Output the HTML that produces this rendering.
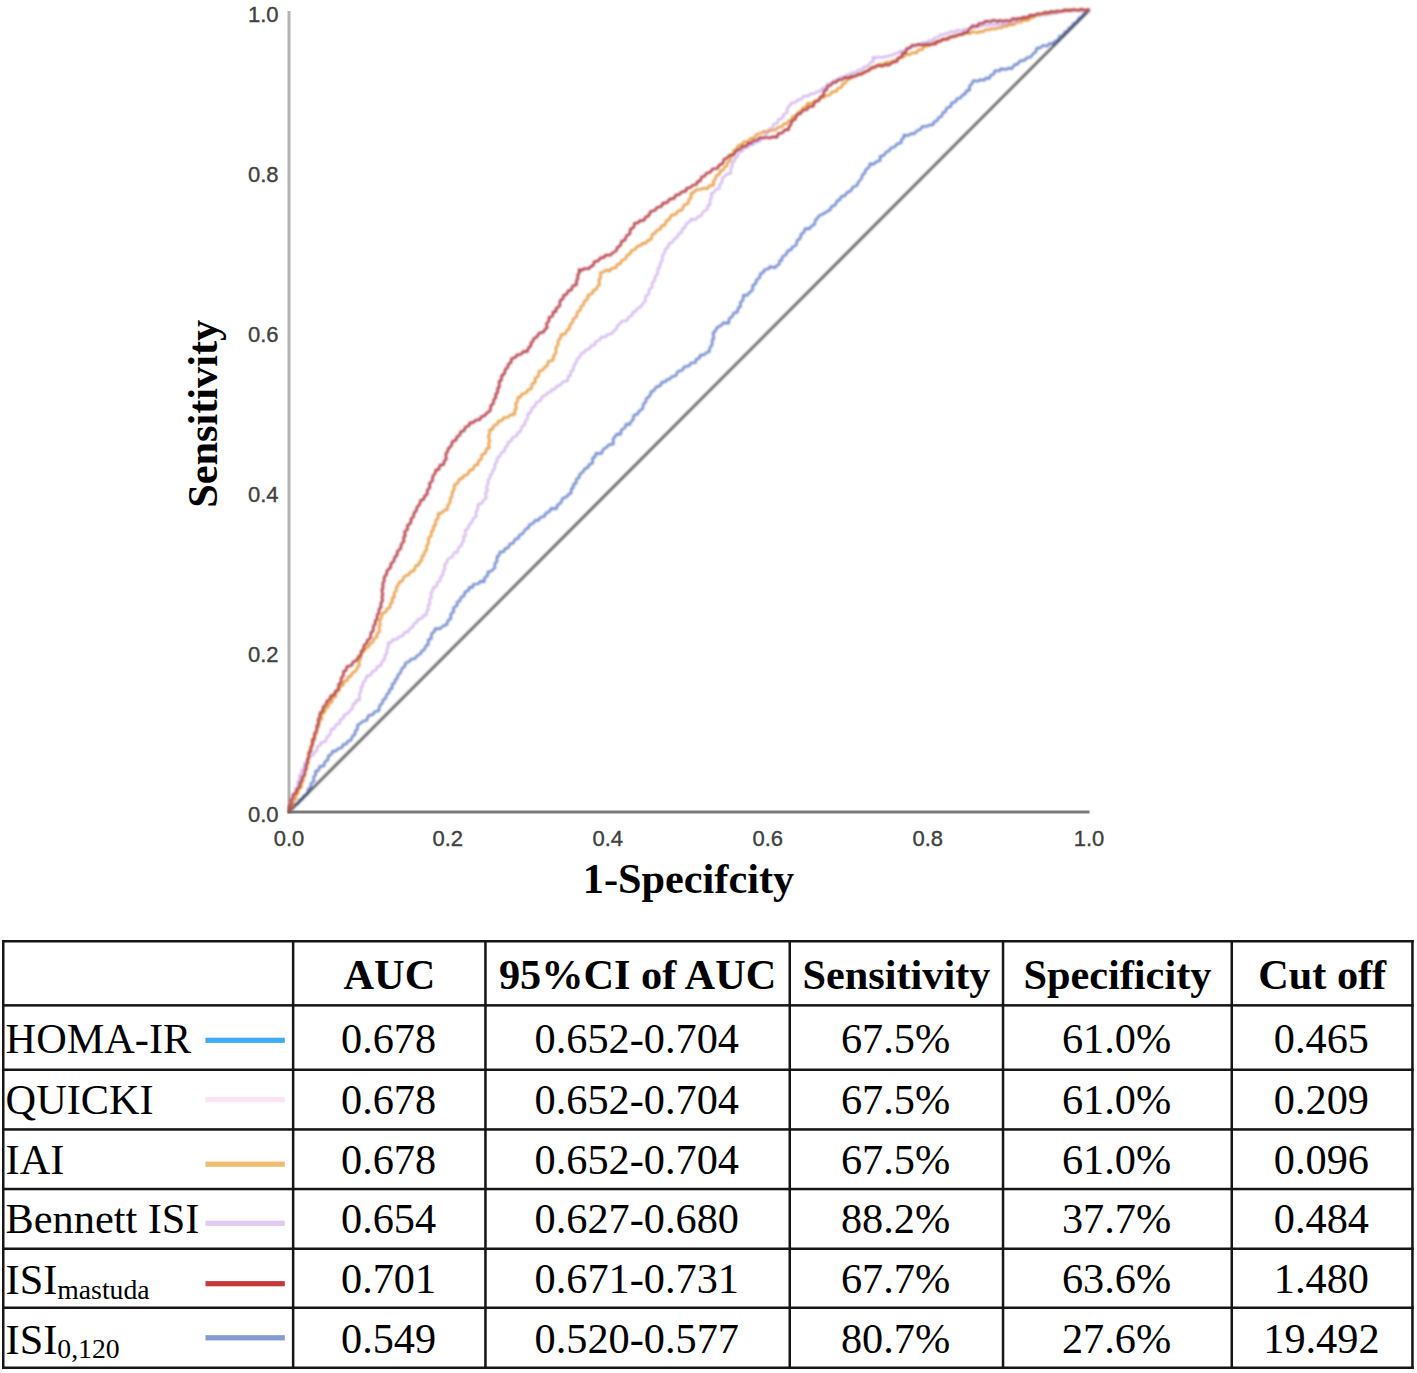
<!DOCTYPE html>
<html><head><meta charset="utf-8"><style>
html,body{margin:0;padding:0;background:#fff;}
body{width:1417px;height:1373px;overflow:hidden;position:relative;}
svg{position:absolute;left:0;top:0;}
.tk{font-family:"Liberation Sans",sans-serif;font-size:22px;fill:#404040;stroke:#404040;stroke-width:0.35px;}
.ttl{font-family:"Liberation Serif",serif;font-weight:bold;font-size:42.3px;fill:#000;}
.hb{font-family:"Liberation Serif",serif;font-weight:bold;font-size:42.3px;fill:#000;}
.td{font-family:"Liberation Serif",serif;font-size:42.3px;fill:#000;}
</style></head><body>
<svg width="1417" height="1373" viewBox="0 0 1417 1373">
<defs><filter id="bl" x="-5%" y="-5%" width="110%" height="110%"><feGaussianBlur stdDeviation="0.8"/></filter><filter id="bl2" x="-1%" y="-1%" width="102%" height="102%"><feGaussianBlur stdDeviation="0.45"/></filter></defs>
<rect x="287.5" y="11" width="3" height="801.5" fill="#b3b3b3"/>
<rect x="287.5" y="810.5" width="802" height="3" fill="#7a7a7a"/>
<g class="tk"><text x="278.6" y="822.0" text-anchor="end">0.0</text><text x="289.0" y="845.5" text-anchor="middle">0.0</text><text x="278.6" y="662.0" text-anchor="end">0.2</text><text x="447.8" y="845.5" text-anchor="middle">0.2</text><text x="278.6" y="502.0" text-anchor="end">0.4</text><text x="607.8" y="845.5" text-anchor="middle">0.4</text><text x="278.6" y="342.0" text-anchor="end">0.6</text><text x="767.8" y="845.5" text-anchor="middle">0.6</text><text x="278.6" y="182.0" text-anchor="end">0.8</text><text x="927.8" y="845.5" text-anchor="middle">0.8</text><text x="278.6" y="22.0" text-anchor="end">1.0</text><text x="1089.0" y="845.5" text-anchor="middle">1.0</text></g>
<text class="ttl" x="688.5" y="893.2" text-anchor="middle">1-Specifcity</text>
<text class="ttl" transform="translate(216.6,413.8) rotate(-90)" text-anchor="middle">Sensitivity</text>
<g fill="none" stroke-linejoin="round" stroke-linecap="round" filter="url(#bl)">
<path d="M289,812 L1089,10.5" stroke="#505050" stroke-width="2.4" style="mix-blend-mode:multiply"/>
<path d="M289.0,811.1 L290.3,808.7 L293.1,807.7 L294.3,804.3 L298.7,803.1 L299.4,799.8 L302.6,798.8 L303.5,796.1 L307.3,793.8 L308.2,789.1 L310.7,787.9 L311.0,783.4 L314.1,781.1 L313.4,777.2 L315.8,774.9 L315.4,771.1 L318.5,770.5 L319.9,766.2 L323.9,766.1 L324.7,762.1 L328.0,759.8 L328.3,755.8 L331.4,754.4 L332.6,751.3 L335.8,751.1 L338.2,748.6 L342.1,747.7 L343.1,744.4 L346.7,744.0 L347.6,741.1 L351.1,740.4 L352.3,736.2 L355.1,734.4 L355.1,730.9 L357.3,729.4 L357.7,724.9 L360.4,723.5 L362.6,721.3 L366.8,720.3 L368.4,715.7 L373.1,714.5 L374.5,711.8 L378.8,710.7 L379.6,705.7 L382.5,703.2 L383.0,699.8 L385.5,698.7 L386.9,694.0 L389.1,692.9 L389.5,689.6 L392.3,688.1 L392.1,684.4 L394.8,682.8 L395.1,679.8 L397.4,678.4 L397.8,675.1 L400.4,673.0 L401.9,668.4 L404.8,666.6 L405.5,662.8 L409.2,661.7 L411.0,659.1 L414.8,658.7 L417.2,655.5 L420.5,654.0 L421.6,651.0 L424.3,649.8 L426.0,645.7 L428.3,644.6 L428.2,639.8 L431.3,638.6 L431.4,633.8 L434.5,631.6 L435.0,628.8 L440.2,628.7 L443.0,626.0 L446.8,624.6 L448.0,620.5 L450.8,618.8 L450.8,614.1 L453.8,611.5 L453.4,607.7 L457.2,605.5 L457.0,601.9 L459.9,601.2 L461.1,597.2 L463.9,596.2 L464.9,592.1 L468.9,590.1 L469.3,587.1 L472.8,587.2 L473.4,584.1 L478.4,583.9 L480.2,581.3 L484.3,581.8 L484.4,578.0 L487.5,575.8 L488.0,571.7 L490.7,571.4 L492.6,570.0 L494.9,567.7 L494.8,563.6 L496.9,561.4 L497.1,556.4 L499.3,555.4 L499.9,551.9 L503.8,551.7 L505.2,548.5 L508.3,547.9 L509.7,544.2 L513.4,543.1 L515.1,538.9 L518.4,538.6 L519.1,535.4 L523.0,533.5 L524.9,529.7 L528.6,527.6 L529.5,524.7 L532.9,523.7 L535.2,520.2 L538.4,520.2 L540.4,517.4 L544.6,516.3 L545.4,513.5 L549.3,511.6 L551.2,508.3 L556.3,508.9 L557.4,505.1 L561.0,502.8 L562.5,498.3 L566.7,496.8 L568.7,494.2 L571.2,493.1 L571.2,488.9 L573.4,487.6 L573.5,484.1 L576.2,483.2 L576.3,479.0 L579.3,477.7 L579.5,474.4 L583.0,471.9 L584.9,468.6 L588.1,467.5 L588.8,464.8 L592.6,463.1 L592.6,457.9 L595.1,456.8 L595.9,453.3 L601.5,453.6 L603.1,449.3 L606.5,447.5 L608.8,444.7 L613.4,444.1 L613.1,438.8 L615.0,436.6 L617.0,434.0 L620.7,434.2 L621.4,429.8 L625.1,427.7 L625.9,424.1 L630.0,424.5 L630.5,421.9 L633.2,419.9 L633.6,415.4 L637.9,413.8 L639.0,411.1 L642.7,408.8 L643.5,403.7 L645.8,402.0 L646.3,398.6 L649.8,396.2 L651.1,391.9 L653.8,390.6 L656.2,387.0 L660.5,385.7 L661.8,382.1 L665.6,381.8 L666.9,379.4 L669.9,379.1 L671.3,376.9 L676.0,375.6 L677.8,371.4 L682.2,370.4 L684.4,366.6 L689.0,366.0 L691.0,362.9 L695.5,362.6 L696.0,359.3 L699.5,358.1 L700.3,355.0 L704.1,354.9 L706.4,352.7 L709.4,351.7 L709.8,347.9 L712.1,344.7 L712.3,339.8 L713.8,338.3 L713.1,333.0 L715.4,331.0 L717.1,327.3 L721.2,325.7 L723.1,322.8 L728.6,323.3 L729.3,318.5 L732.3,316.6 L733.7,312.9 L737.3,312.2 L738.4,307.6 L740.6,306.6 L740.3,302.5 L742.9,300.3 L743.4,295.2 L747.2,295.3 L749.5,292.5 L752.6,290.1 L752.8,285.3 L755.8,283.6 L756.4,279.9 L759.6,277.8 L760.4,273.7 L763.4,272.7 L764.2,269.9 L769.0,268.7 L769.8,266.5 L775.3,267.9 L776.0,266.0 L779.4,264.3 L779.3,260.9 L781.9,260.1 L782.2,256.8 L786.1,254.8 L787.7,250.7 L791.2,249.8 L792.1,247.2 L796.1,245.2 L797.1,240.5 L800.3,238.5 L801.1,234.0 L803.7,232.7 L805.2,228.5 L809.5,228.9 L811.1,226.3 L814.6,224.4 L815.3,220.2 L817.7,218.0 L819.2,215.5 L823.5,213.8 L826.5,211.8 L830.4,209.6 L831.2,206.8 L835.4,204.9 L837.1,200.7 L840.0,199.9 L841.2,196.4 L844.6,196.0 L846.9,192.6 L851.1,190.6 L852.7,187.2 L856.9,185.5 L858.7,181.5 L861.3,179.0 L862.5,174.7 L864.8,173.1 L865.6,169.8 L869.2,167.2 L869.9,163.8 L873.7,164.2 L876.6,161.5 L880.4,160.4 L879.9,156.5 L884.0,155.3 L886.2,151.8 L889.2,150.9 L890.9,147.9 L894.8,146.9 L897.0,143.8 L901.2,142.9 L901.4,139.6 L903.6,138.0 L904.0,135.0 L908.2,135.6 L910.7,133.7 L914.4,133.8 L917.1,130.4 L920.0,129.9 L922.3,126.5 L927.4,126.2 L928.8,125.1 L933.1,124.8 L933.9,121.9 L937.3,120.6 L938.7,117.3 L941.5,116.7 L942.8,112.6 L945.6,111.6 L946.7,107.8 L950.6,106.9 L951.6,103.0 L955.5,101.8 L957.1,98.4 L960.3,98.2 L962.5,94.9 L965.2,94.0 L966.3,91.0 L969.7,90.0 L969.4,86.3 L971.8,83.9 L973.4,80.4 L977.6,81.4 L979.9,79.8 L984.3,80.2 L985.6,78.0 L989.4,78.5 L990.7,75.1 L993.6,74.4 L994.8,70.7 L999.9,70.9 L1000.7,68.8 L1006.1,69.5 L1008.5,68.0 L1012.0,68.7 L1014.1,65.0 L1017.7,64.0 L1019.8,61.0 L1024.8,60.3 L1026.7,57.8 L1030.8,57.1 L1033.0,53.7 L1035.8,51.9 L1036.7,48.2 L1040.3,47.8 L1043.0,45.3 L1047.2,46.2 L1049.7,43.4 L1053.1,44.0 L1054.5,41.3 L1058.0,40.2 L1059.4,36.4 L1063.4,35.2 L1064.8,31.8 L1067.8,31.2 L1068.6,28.2 L1072.1,26.2 L1073.5,23.3 L1077.0,21.8 L1078.7,18.3 L1082.5,16.0 L1084.4,12.3 L1088.3,11.7 L1089.0,10.5" stroke="#6a84cc" stroke-width="2.4" style="mix-blend-mode:multiply"/>
<path d="M289.0,811.0 L290.0,807.3 L292.6,805.2 L292.3,801.7 L294.2,798.6 L293.7,794.6 L296.2,793.0 L295.7,788.3 L297.8,787.1 L297.7,781.8 L300.0,779.3 L299.3,775.5 L301.8,773.4 L301.5,769.9 L304.3,768.3 L304.5,763.0 L307.4,760.4 L309.2,756.5 L313.7,755.0 L314.3,752.0 L317.0,750.8 L317.3,746.5 L320.1,745.2 L321.5,742.3 L325.6,741.5 L326.9,737.1 L330.3,734.7 L330.8,729.3 L334.2,728.9 L335.9,724.5 L339.8,723.5 L340.1,719.8 L343.4,718.2 L343.9,715.1 L348.2,713.2 L350.2,710.2 L352.4,708.8 L352.9,704.0 L355.6,703.4 L356.1,700.4 L359.8,699.8 L359.3,694.2 L361.2,690.9 L360.7,687.3 L362.8,686.2 L363.1,682.2 L365.2,680.8 L366.5,676.4 L371.0,674.9 L372.1,671.5 L375.9,670.5 L377.2,666.6 L381.0,665.4 L382.0,661.5 L384.8,659.1 L384.9,655.2 L387.2,653.3 L386.6,649.8 L388.3,647.2 L388.2,642.7 L391.2,642.6 L392.8,639.6 L396.9,639.5 L399.2,636.5 L402.3,636.1 L404.7,632.4 L408.4,631.6 L409.7,628.6 L412.7,627.3 L413.9,623.6 L417.2,622.3 L417.6,619.4 L422.0,618.4 L423.1,615.6 L426.5,615.0 L426.8,610.9 L428.5,609.6 L427.9,605.4 L430.1,603.7 L429.3,599.7 L431.4,597.4 L430.8,592.9 L432.6,591.5 L433.0,588.0 L436.7,586.0 L437.2,582.4 L440.4,580.6 L440.6,576.7 L443.1,575.1 L443.0,571.2 L445.0,569.2 L444.5,564.7 L446.4,563.3 L447.9,558.9 L452.3,557.1 L454.0,552.7 L457.5,552.2 L458.4,547.4 L461.4,545.7 L462.1,542.1 L463.9,540.8 L463.3,536.6 L465.6,535.7 L465.1,530.5 L468.3,528.3 L469.3,524.3 L472.4,521.9 L473.1,518.4 L476.2,516.8 L476.0,511.4 L477.9,509.6 L477.9,504.6 L482.1,503.2 L483.2,500.3 L486.3,498.2 L485.5,493.0 L487.6,490.6 L486.5,486.8 L488.3,483.7 L488.0,480.0 L490.0,478.1 L490.5,474.6 L492.4,473.5 L492.6,470.2 L494.7,469.1 L494.9,464.0 L496.9,461.7 L497.3,458.0 L500.2,455.9 L501.4,452.7 L504.4,451.3 L505.2,447.4 L507.7,445.6 L508.0,442.3 L511.5,440.7 L512.4,437.2 L516.5,436.2 L517.7,433.0 L520.9,430.9 L521.8,426.6 L524.5,425.3 L525.4,421.0 L527.6,419.0 L527.9,413.8 L530.8,412.5 L531.9,408.1 L534.8,406.3 L536.4,402.2 L540.7,400.6 L542.0,396.5 L545.7,395.3 L547.8,392.5 L551.1,392.0 L552.0,389.4 L555.3,389.1 L556.4,386.4 L560.6,384.9 L562.9,381.6 L567.8,380.8 L568.1,376.3 L570.7,375.6 L570.8,371.1 L573.3,370.2 L573.9,365.1 L576.1,363.3 L577.1,358.8 L579.7,357.6 L580.9,353.6 L584.2,352.4 L585.9,349.7 L589.5,348.9 L591.0,345.7 L594.9,345.0 L595.4,341.7 L599.5,340.3 L601.1,337.2 L605.8,336.9 L607.0,334.5 L611.7,333.9 L613.4,331.1 L616.6,329.0 L617.4,325.7 L620.3,323.6 L621.6,321.2 L626.8,320.7 L628.5,317.2 L632.2,315.2 L633.0,311.8 L635.9,311.3 L637.3,308.2 L640.6,307.1 L642.7,303.6 L645.5,300.7 L645.6,296.2 L648.8,293.8 L649.0,289.3 L652.1,287.3 L652.0,282.9 L654.9,280.2 L655.0,276.5 L657.6,274.1 L657.8,268.6 L660.0,267.2 L660.0,263.5 L662.3,261.1 L662.3,255.8 L664.6,252.8 L665.2,248.9 L667.7,247.9 L669.1,243.6 L672.4,242.5 L674.1,238.9 L677.1,237.6 L678.3,234.1 L681.8,232.5 L682.3,228.6 L684.9,227.6 L686.2,223.6 L689.9,221.5 L690.8,219.1 L695.3,219.6 L697.7,216.9 L701.5,215.4 L703.2,211.5 L707.0,209.8 L708.0,205.5 L710.3,204.4 L709.7,200.1 L711.8,197.7 L711.1,193.8 L713.9,192.0 L716.6,189.0 L719.6,188.5 L719.4,184.8 L722.1,182.4 L722.2,177.9 L725.0,176.3 L726.5,174.1 L731.0,173.3 L730.5,168.6 L732.4,166.8 L731.9,162.5 L734.5,161.7 L734.8,158.0 L737.7,156.7 L738.5,153.0 L742.2,151.1 L744.4,147.6 L747.9,147.3 L749.2,145.2 L753.7,144.5 L755.1,142.1 L759.7,141.3 L761.5,137.7 L764.9,137.4 L765.6,134.2 L768.5,132.3 L769.1,128.8 L772.3,128.5 L773.7,124.0 L777.3,123.2 L778.6,119.4 L783.0,117.7 L783.6,114.0 L787.1,112.8 L787.4,108.2 L789.8,105.6 L791.6,102.8 L795.6,102.3 L797.8,99.8 L801.8,99.1 L803.3,96.2 L808.9,96.2 L809.9,93.9 L814.4,93.8 L816.4,91.7 L819.7,91.6 L822.3,88.4 L826.7,86.9 L827.4,83.8 L832.0,83.6 L833.9,80.3 L838.2,80.4 L840.5,77.1 L845.0,77.2 L846.9,74.7 L850.0,74.5 L851.8,72.7 L856.0,72.6 L858.0,70.0 L862.4,69.4 L864.1,66.7 L868.0,66.1 L870.3,62.5 L873.4,61.6 L873.0,57.2 L876.8,58.0 L878.5,56.7 L882.5,57.8 L884.2,56.4 L887.8,56.7 L889.6,55.1 L892.9,55.2 L895.3,53.4 L898.5,53.4 L900.2,51.0 L903.7,51.2 L905.7,49.0 L910.4,47.9 L911.8,45.8 L915.6,46.2 L917.5,44.3 L920.9,44.7 L922.3,42.3 L927.0,42.8 L928.6,40.6 L932.5,40.7 L934.4,37.5 L937.7,37.4 L940.5,34.5 L943.7,34.8 L945.4,33.3 L948.6,33.5 L951.0,31.4 L955.3,32.3 L957.0,30.0 L962.8,30.8 L963.9,29.1 L968.8,29.7 L969.9,27.8 L974.8,27.6 L976.9,25.9 L982.0,26.5 L983.1,24.6 L988.5,25.8 L990.4,24.0 L994.9,25.1 L996.4,23.7 L1001.0,24.6 L1002.6,23.3 L1007.5,24.1 L1009.2,21.7 L1013.0,22.1 L1014.0,20.1 L1019.0,20.0 L1020.3,18.1 L1025.5,18.5 L1028.1,16.3 L1032.9,17.3 L1035.5,15.4 L1039.5,15.9 L1041.4,14.2 L1045.4,15.3 L1047.0,13.8 L1051.5,14.1 L1053.1,12.8 L1057.8,13.3 L1059.1,11.8 L1064.3,12.0 L1066.7,10.5 L1071.9,11.4 L1074.6,10.1 L1078.4,11.2 L1079.8,10.0 L1083.5,11.1 L1087.1,10.3 L1089.0,10.7" stroke="#d2b2ec" stroke-width="2.2"/>
<path d="M289.0,811.0 L290.5,806.7 L292.8,805.6 L293.1,800.7 L295.7,799.3 L296.0,794.7 L298.2,793.4 L298.3,789.3 L301.6,786.7 L301.6,782.2 L303.5,780.3 L303.2,777.1 L305.1,775.2 L305.0,770.0 L307.0,767.7 L306.7,764.4 L308.5,762.9 L308.0,757.4 L309.5,756.1 L309.1,750.8 L311.9,748.2 L311.9,743.2 L314.7,740.3 L314.0,736.2 L316.5,733.9 L316.4,729.4 L318.9,726.6 L319.1,721.6 L321.7,718.9 L321.4,714.3 L324.7,712.0 L325.6,708.1 L328.5,706.8 L328.7,703.2 L332.0,702.4 L332.1,698.3 L335.6,696.5 L336.1,692.3 L339.2,690.5 L339.6,687.0 L343.5,684.9 L343.7,681.5 L347.6,680.1 L348.1,676.6 L351.2,676.2 L352.2,673.0 L356.0,670.9 L357.3,667.3 L359.2,665.8 L359.1,660.7 L360.8,657.8 L360.7,654.0 L363.6,651.9 L365.9,648.1 L369.4,646.0 L370.3,642.9 L373.3,642.1 L374.3,637.8 L376.9,637.1 L377.0,633.5 L379.5,631.9 L379.2,627.0 L380.2,624.7 L379.5,620.4 L381.5,618.0 L382.1,613.4 L386.1,612.0 L386.9,608.8 L390.1,607.7 L390.2,603.7 L392.3,602.5 L392.0,598.2 L394.4,597.2 L394.0,593.0 L396.1,590.9 L396.6,586.9 L398.2,585.3 L399.0,582.4 L402.5,580.8 L404.2,576.3 L408.9,574.7 L410.5,571.8 L414.3,570.5 L415.5,566.0 L418.6,565.0 L419.9,561.5 L421.9,560.2 L421.8,556.6 L424.1,555.1 L424.5,551.8 L426.7,550.3 L426.6,546.0 L428.5,543.4 L428.5,538.1 L431.2,535.8 L431.3,531.4 L433.3,530.3 L433.6,526.1 L435.7,524.9 L435.5,520.6 L438.4,517.9 L438.0,513.7 L441.6,513.0 L444.1,510.3 L447.4,509.6 L447.8,505.0 L450.0,502.9 L450.3,498.8 L452.1,496.2 L452.1,492.5 L454.2,489.3 L454.5,484.7 L457.9,483.1 L459.0,479.5 L462.4,478.4 L463.7,475.9 L467.8,474.3 L469.8,470.1 L472.9,469.8 L474.3,465.6 L477.9,464.5 L478.6,460.5 L481.4,459.3 L481.6,455.0 L485.3,453.2 L486.6,448.7 L489.5,447.6 L488.4,443.6 L489.8,441.2 L488.3,436.1 L489.5,434.7 L489.6,430.0 L493.0,429.0 L493.4,425.8 L497.6,423.9 L498.4,421.0 L502.0,420.7 L504.0,417.5 L508.2,417.3 L510.3,415.0 L514.7,414.3 L514.7,410.0 L516.5,408.6 L515.4,403.8 L517.3,402.2 L517.9,397.5 L520.9,396.8 L521.6,394.1 L526.2,392.8 L528.0,389.9 L531.4,388.9 L532.1,383.8 L535.3,382.4 L535.2,378.2 L538.3,376.3 L539.0,371.4 L542.7,370.2 L544.7,367.2 L547.6,365.2 L548.2,361.3 L553.0,360.3 L553.7,355.8 L556.1,352.8 L555.7,347.8 L558.1,345.0 L558.2,340.0 L560.4,338.8 L561.0,334.8 L565.5,333.9 L566.8,330.3 L569.4,328.9 L569.9,325.0 L572.9,322.0 L573.1,318.9 L576.5,316.7 L577.3,312.1 L580.4,310.0 L580.9,306.5 L583.1,305.4 L584.4,301.2 L587.6,299.1 L588.1,295.1 L592.4,293.7 L593.0,290.7 L596.3,289.4 L597.5,286.4 L599.6,284.3 L598.8,279.8 L600.6,277.9 L600.4,272.7 L603.9,271.9 L605.9,270.0 L610.0,271.1 L611.2,268.4 L616.0,267.7 L617.1,264.4 L620.4,264.0 L621.4,260.5 L625.6,258.9 L627.0,255.1 L630.1,254.2 L631.0,251.1 L635.2,249.2 L637.7,246.0 L641.3,245.3 L642.4,243.1 L646.1,243.2 L647.5,240.7 L651.5,238.9 L652.0,234.4 L655.1,233.3 L656.5,230.6 L660.3,229.1 L661.4,225.8 L664.9,225.3 L666.0,221.2 L669.5,219.1 L671.4,215.1 L675.6,214.5 L677.9,211.0 L682.2,209.8 L683.8,205.3 L688.1,203.4 L689.0,199.3 L691.3,197.6 L690.9,193.7 L693.7,192.4 L696.4,189.4 L701.5,189.4 L702.9,188.0 L707.3,188.7 L709.6,185.5 L713.7,185.2 L713.2,181.1 L715.3,179.3 L716.3,175.4 L719.5,174.3 L720.1,171.2 L723.0,170.2 L724.6,167.2 L727.2,165.6 L727.5,162.0 L730.2,160.5 L731.2,156.1 L733.5,154.9 L733.5,150.5 L736.3,149.7 L738.1,145.6 L742.4,144.5 L743.8,141.6 L748.0,141.6 L750.1,138.6 L754.7,137.7 L756.4,134.3 L761.4,133.2 L764.0,131.3 L768.4,131.9 L769.8,130.4 L774.9,130.3 L777.7,127.6 L782.4,126.5 L783.8,123.8 L787.0,123.5 L788.7,120.9 L791.8,120.2 L792.2,117.0 L796.1,115.7 L798.4,112.1 L801.9,110.9 L802.7,107.9 L805.6,107.2 L807.6,103.3 L812.2,103.4 L815.0,100.6 L818.9,100.1 L820.4,98.1 L823.7,97.6 L825.3,95.5 L829.9,95.1 L832.2,91.8 L836.5,91.3 L837.5,88.6 L841.7,87.1 L842.5,83.9 L845.7,82.9 L847.0,79.6 L851.4,78.3 L853.3,75.6 L857.3,75.7 L860.2,72.9 L864.9,72.7 L867.2,70.1 L871.1,69.3 L872.5,66.9 L876.7,66.0 L879.2,64.2 L883.5,64.4 L886.2,62.3 L891.5,62.7 L892.6,60.6 L896.1,60.6 L898.1,58.0 L903.3,57.3 L905.7,54.2 L909.7,54.7 L912.5,52.6 L916.6,52.8 L918.4,49.8 L922.5,49.5 L923.9,46.4 L927.5,46.4 L928.8,43.8 L932.7,44.0 L934.9,41.8 L939.5,42.1 L940.7,39.8 L945.7,39.9 L947.4,37.4 L951.5,37.5 L953.3,35.7 L957.3,35.7 L959.6,34.0 L963.6,34.6 L966.0,32.7 L970.1,33.5 L972.3,31.6 L977.4,32.9 L978.9,31.6 L982.8,31.8 L985.9,29.6 L989.8,29.9 L991.5,28.3 L995.8,29.2 L997.7,27.4 L1001.4,28.1 L1002.9,26.3 L1007.3,26.3 L1008.6,24.5 L1014.0,24.7 L1015.9,22.4 L1021.1,22.3 L1022.7,20.1 L1028.1,20.3 L1030.5,18.1 L1034.4,16.9 L1036.1,14.5 L1039.7,15.0 L1042.7,13.7 L1047.2,14.0 L1049.0,12.0 L1053.6,12.7 L1055.7,11.3 L1059.5,12.0 L1062.5,10.4 L1067.9,10.9 L1069.0,9.3 L1073.5,10.6 L1074.9,9.4 L1079.6,10.7 L1081.8,9.3 L1086.8,10.5 L1088.2,9.4 L1089.0,10.0" stroke="#e89a40" stroke-width="2.4"/>
<path d="M289.0,811.0 L289.3,806.3 L291.3,804.8 L290.8,800.3 L292.9,797.5 L292.9,794.3 L296.2,793.0 L296.2,789.8 L299.4,787.6 L299.9,782.4 L301.9,781.2 L302.0,776.9 L304.5,775.2 L304.6,771.3 L306.1,769.4 L305.9,765.1 L307.5,763.2 L307.3,759.1 L309.1,758.0 L308.5,753.1 L310.8,752.0 L310.7,746.8 L312.6,744.9 L312.1,739.7 L314.6,738.2 L314.4,733.3 L316.8,731.2 L316.8,726.0 L318.6,723.4 L318.0,719.5 L319.7,717.5 L319.9,713.2 L322.8,711.0 L323.1,707.0 L326.1,704.6 L326.9,700.9 L329.4,700.1 L330.8,696.0 L334.5,694.7 L335.2,691.5 L338.7,689.1 L338.5,684.4 L340.8,683.1 L341.2,677.8 L343.4,675.8 L343.4,671.3 L345.8,670.6 L347.2,666.4 L351.8,665.4 L353.0,661.8 L356.4,660.6 L358.4,656.7 L361.0,655.6 L361.1,651.3 L363.4,649.6 L364.0,645.2 L366.7,643.4 L367.4,640.2 L370.5,638.3 L370.8,633.2 L373.3,630.6 L373.5,625.6 L375.4,624.2 L375.1,620.9 L377.1,619.2 L377.2,614.8 L378.9,613.3 L379.0,609.2 L381.0,607.5 L380.8,603.2 L382.6,600.8 L381.9,596.8 L382.8,594.9 L381.8,589.7 L383.0,588.2 L382.8,583.2 L384.1,581.6 L384.2,577.0 L386.5,574.6 L387.1,570.4 L390.5,567.8 L391.0,563.6 L393.8,561.4 L394.6,557.3 L397.2,555.0 L397.4,551.1 L400.6,548.7 L401.4,544.0 L404.0,541.2 L403.6,536.9 L405.4,535.8 L404.5,531.9 L407.6,529.3 L407.4,525.4 L410.8,523.0 L411.1,518.7 L413.5,516.9 L414.1,512.6 L416.3,511.0 L417.1,506.8 L419.6,504.7 L420.7,500.1 L423.7,499.6 L424.5,496.2 L427.4,494.0 L427.2,490.1 L430.0,487.7 L429.5,483.3 L432.3,481.1 L432.9,476.0 L435.2,473.3 L435.8,470.0 L439.0,469.3 L439.8,465.1 L443.7,464.6 L444.2,461.2 L446.3,459.2 L445.7,453.9 L447.7,451.4 L448.2,448.5 L451.3,446.1 L452.3,441.4 L456.1,440.1 L457.0,436.5 L459.8,435.3 L460.5,431.9 L464.3,430.7 L465.3,427.1 L469.3,425.5 L469.8,422.6 L473.1,422.5 L476.1,419.9 L479.8,419.7 L481.3,416.6 L484.4,415.9 L486.7,412.9 L490.3,410.7 L490.8,405.4 L493.2,404.0 L493.7,400.0 L496.0,397.4 L495.6,394.0 L497.8,392.5 L497.5,388.2 L499.4,387.1 L499.1,381.3 L501.4,380.2 L501.6,375.6 L504.5,373.9 L505.2,369.5 L507.8,367.4 L508.4,364.0 L511.0,362.6 L511.5,358.6 L515.6,357.4 L517.1,354.7 L520.9,354.4 L523.3,351.5 L527.4,351.5 L528.4,348.0 L530.9,345.8 L531.0,342.7 L533.0,341.4 L533.6,338.5 L537.1,336.8 L539.0,333.1 L543.6,332.0 L545.2,328.9 L547.3,328.0 L546.4,323.8 L549.0,321.0 L549.0,317.2 L552.7,316.0 L553.0,312.1 L556.1,311.5 L556.1,308.2 L559.7,305.9 L560.1,300.6 L563.3,298.6 L563.6,295.1 L566.7,294.4 L568.2,290.6 L571.3,290.1 L572.7,285.9 L576.5,284.8 L576.4,280.5 L578.1,278.5 L577.5,275.0 L579.4,273.1 L579.0,269.7 L582.5,270.1 L584.2,268.4 L588.6,268.9 L590.9,266.4 L593.4,265.6 L594.1,261.6 L598.1,261.0 L600.3,258.0 L604.3,257.3 L605.7,254.9 L610.4,255.2 L613.1,252.5 L616.4,250.8 L617.0,247.8 L620.5,245.5 L621.7,241.1 L625.0,240.2 L626.4,235.8 L629.9,234.0 L630.2,229.4 L633.9,227.3 L634.5,223.1 L638.0,222.9 L640.2,220.4 L643.7,220.6 L645.6,217.1 L648.9,215.7 L650.3,211.7 L655.1,210.4 L657.0,207.3 L661.8,206.3 L662.6,203.3 L667.4,202.5 L669.4,199.2 L674.4,198.3 L675.5,195.1 L679.4,194.5 L681.2,192.1 L686.0,191.0 L686.7,188.1 L690.5,187.6 L692.3,185.4 L696.6,184.4 L697.6,181.5 L700.4,180.9 L701.5,176.8 L704.7,176.1 L706.6,173.2 L710.5,172.1 L712.5,168.9 L717.5,168.4 L719.1,165.2 L723.0,163.3 L723.9,159.3 L727.0,158.2 L729.6,155.2 L734.1,154.5 L736.3,150.7 L740.5,148.8 L742.5,146.2 L746.4,146.1 L747.9,143.3 L751.2,143.3 L753.0,140.6 L757.1,140.4 L759.2,137.7 L763.9,138.0 L765.8,137.2 L769.8,138.1 L772.5,136.7 L777.1,137.2 L778.1,133.5 L782.2,133.1 L784.8,129.8 L788.5,129.9 L789.2,126.1 L791.0,124.9 L791.4,121.1 L795.4,119.2 L796.6,114.9 L800.7,113.5 L802.7,110.2 L807.2,109.6 L808.6,106.6 L813.3,106.3 L814.6,101.9 L818.9,100.6 L820.2,96.8 L823.3,95.9 L823.9,90.9 L826.6,89.9 L827.4,85.9 L830.5,85.6 L832.6,82.3 L836.6,82.2 L837.5,79.8 L842.8,79.6 L844.5,77.3 L849.2,78.0 L850.7,76.3 L854.7,76.6 L857.6,74.5 L861.7,74.4 L864.2,71.8 L868.4,70.9 L870.8,67.9 L875.1,67.5 L877.2,65.4 L882.3,66.3 L884.2,64.9 L889.4,65.0 L892.1,62.3 L897.0,61.6 L897.9,58.3 L901.8,56.6 L902.3,53.2 L905.7,52.7 L906.4,48.8 L910.6,47.5 L912.1,45.3 L915.6,45.4 L918.4,44.3 L923.3,45.2 L926.0,44.1 L930.1,45.0 L932.3,43.7 L935.7,44.0 L936.7,41.5 L941.6,40.8 L942.8,38.9 L948.1,39.2 L950.3,36.8 L955.1,36.6 L958.0,34.7 L961.9,34.6 L963.9,32.4 L967.7,32.5 L968.7,29.3 L971.0,28.0 L972.2,25.7 L977.8,26.5 L978.5,23.8 L983.4,23.2 L985.3,21.3 L990.7,21.6 L993.6,20.2 L997.8,21.7 L999.0,20.5 L1003.5,21.3 L1005.9,20.5 L1010.2,21.1 L1013.0,18.4 L1016.6,19.5 L1017.8,18.3 L1021.2,18.9 L1022.6,17.2 L1027.6,17.5 L1030.3,15.0 L1034.7,15.6 L1037.6,13.6 L1041.5,14.1 L1044.7,12.3 L1049.0,13.0 L1051.3,11.3 L1054.9,12.2 L1057.1,10.9 L1062.3,11.4 L1064.7,9.7 L1070.0,10.7 L1072.7,9.5 L1078.0,10.4 L1081.1,9.2 L1086.3,10.4 L1087.8,9.3 L1089.0,10.0" stroke="#b0343f" stroke-width="2.4"/>
</g>
<g fill="#141414" filter="url(#bl2)"><rect x="2.0" y="940.0" width="1411.8" height="2.5"/><rect x="2.0" y="1004.1" width="1411.8" height="2.5"/><rect x="2.0" y="1068.5" width="1411.8" height="2.5"/><rect x="2.0" y="1128.2" width="1411.8" height="2.5"/><rect x="2.0" y="1187.8" width="1411.8" height="2.5"/><rect x="2.0" y="1247.5" width="1411.8" height="2.5"/><rect x="2.0" y="1306.5" width="1411.8" height="2.5"/><rect x="2.0" y="1366.5" width="1411.8" height="2.5"/><rect x="2.0" y="940.0" width="2.5" height="429.0"/><rect x="291.9" y="940.0" width="2.5" height="429.0"/><rect x="484.2" y="940.0" width="2.5" height="429.0"/><rect x="788.5" y="940.0" width="2.5" height="429.0"/><rect x="1001.8" y="940.0" width="2.5" height="429.0"/><rect x="1230.5" y="940.0" width="2.5" height="429.0"/><rect x="1411.2" y="940.0" width="2.5" height="429.0"/></g>
<text class="hb" x="389.4" y="989.0" text-anchor="middle">AUC</text><text class="hb" x="637.6" y="989.0" text-anchor="middle">95%CI of AUC</text><text class="hb" x="896.4" y="989.0" text-anchor="middle">Sensitivity</text><text class="hb" x="1117.4" y="989.0" text-anchor="middle">Specificity</text><text class="hb" x="1322.2" y="989.0" text-anchor="middle">Cut off</text><text class="td" x="5.6" y="1052.6">HOMA-IR</text><text class="td" x="388.6" y="1052.6" text-anchor="middle">0.678</text><text class="td" x="636.8" y="1052.6" text-anchor="middle">0.652-0.704</text><text class="td" x="895.6" y="1052.6" text-anchor="middle">67.5%</text><text class="td" x="1116.6" y="1052.6" text-anchor="middle">61.0%</text><text class="td" x="1321.4" y="1052.6" text-anchor="middle">0.465</text><rect x="205.5" y="1037.7" width="79.3" height="5.2" fill="#3eabf3"/><text class="td" x="5.6" y="1114.2">QUICKI</text><text class="td" x="388.6" y="1114.2" text-anchor="middle">0.678</text><text class="td" x="636.8" y="1114.2" text-anchor="middle">0.652-0.704</text><text class="td" x="895.6" y="1114.2" text-anchor="middle">67.5%</text><text class="td" x="1116.6" y="1114.2" text-anchor="middle">61.0%</text><text class="td" x="1321.4" y="1114.2" text-anchor="middle">0.209</text><rect x="205.5" y="1097.1" width="79.3" height="5.2" fill="#fde3f4"/><text class="td" x="5.6" y="1173.8">IAI</text><text class="td" x="388.6" y="1173.8" text-anchor="middle">0.678</text><text class="td" x="636.8" y="1173.8" text-anchor="middle">0.652-0.704</text><text class="td" x="895.6" y="1173.8" text-anchor="middle">67.5%</text><text class="td" x="1116.6" y="1173.8" text-anchor="middle">61.0%</text><text class="td" x="1321.4" y="1173.8" text-anchor="middle">0.096</text><rect x="205.5" y="1161.6" width="79.3" height="5.2" fill="#eebd70"/><text class="td" x="5.6" y="1233.4">Bennett ISI</text><text class="td" x="388.6" y="1233.4" text-anchor="middle">0.654</text><text class="td" x="636.8" y="1233.4" text-anchor="middle">0.627-0.680</text><text class="td" x="895.6" y="1233.4" text-anchor="middle">88.2%</text><text class="td" x="1116.6" y="1233.4" text-anchor="middle">37.7%</text><text class="td" x="1321.4" y="1233.4" text-anchor="middle">0.484</text><rect x="205.5" y="1220.7" width="79.3" height="5.2" fill="#e1c9f1"/><text class="td" x="5.6" y="1294.4">ISI<tspan font-size="27.7" dy="4.5">mastuda</tspan></text><text class="td" x="388.6" y="1293.4" text-anchor="middle">0.701</text><text class="td" x="636.8" y="1293.4" text-anchor="middle">0.671-0.731</text><text class="td" x="895.6" y="1293.4" text-anchor="middle">67.7%</text><text class="td" x="1116.6" y="1293.4" text-anchor="middle">63.6%</text><text class="td" x="1321.4" y="1293.4" text-anchor="middle">1.480</text><rect x="205.5" y="1281.1" width="79.3" height="5.2" fill="#c43a3a"/><text class="td" x="5.6" y="1353.6">ISI<tspan font-size="27.7" dy="4.5">0,120</tspan></text><text class="td" x="388.6" y="1352.6" text-anchor="middle">0.549</text><text class="td" x="636.8" y="1352.6" text-anchor="middle">0.520-0.577</text><text class="td" x="895.6" y="1352.6" text-anchor="middle">80.7%</text><text class="td" x="1116.6" y="1352.6" text-anchor="middle">27.6%</text><text class="td" x="1321.4" y="1352.6" text-anchor="middle">19.492</text><rect x="205.5" y="1335.2" width="79.3" height="5.2" fill="#8299d1"/>
</svg>
</body></html>
